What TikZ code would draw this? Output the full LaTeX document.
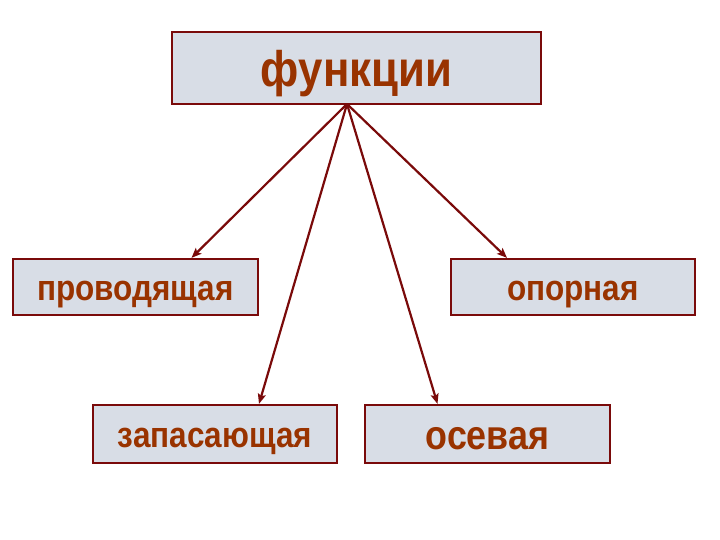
\documentclass[tikz,border=0pt]{standalone}
\usepackage{fontspec}
\setmainfont{Liberation Sans}
\newfontfamily\boxfont[FakeStretch=0.875]{Liberation Sans}
\usepackage{tikz}
\usetikzlibrary{arrows.meta}
\definecolor{boxfill}{HTML}{D8DDE6}
\definecolor{boxline}{HTML}{7A0A0A}
\definecolor{textred}{HTML}{993300}

\begin{document}
\begin{tikzpicture}[x=1pt, y=1pt,
        funcbox/.style={draw=boxline, line width=2.2pt, fill=boxfill, inner sep=0pt,
            text=textred, font=\boxfont\bfseries\fontsize{#1}{#1}\selectfont,
            text height={0.96*#1pt}, text depth={0.2*#1pt}},
        link/.style={draw=boxline, line width=2.2pt, -{Stealth[length=10pt, width=8pt, inset=2pt]}}]
        \useasboundingbox (0, 0) rectangle (720, 540);
        % Top
        \node [funcbox=50, minimum width=369pt, minimum height=72pt] (funk) at (356.5, 472) {функции};
        \coordinate (start) at (347, 436);
        % Row 1
        \node [funcbox=36, minimum width=245pt, minimum height=56pt] (prov) at (135.5, 253) {проводящая};
        \node [funcbox=36, minimum width=244pt, minimum height=56pt] (opor) at (573, 253) {опорная};
        % Row 2
        \node [funcbox=36, minimum width=244pt, minimum height=58pt] (zapas) at (215, 106) {запасающая};
        \node [funcbox=41, minimum width=245pt, minimum height=58pt] (osev) at (487.5, 106) {осевая};
        % Arrows
        \draw [link] (start) -- ([xshift=56pt]prov.north);
        \draw [link] (start) -- ([xshift=44pt]zapas.north);
        \draw [link] (start) -- ([xshift=-50pt]osev.north);
        \draw [link] (start) -- ([xshift=-66pt]opor.north);
    \end{tikzpicture}
\end{document}
